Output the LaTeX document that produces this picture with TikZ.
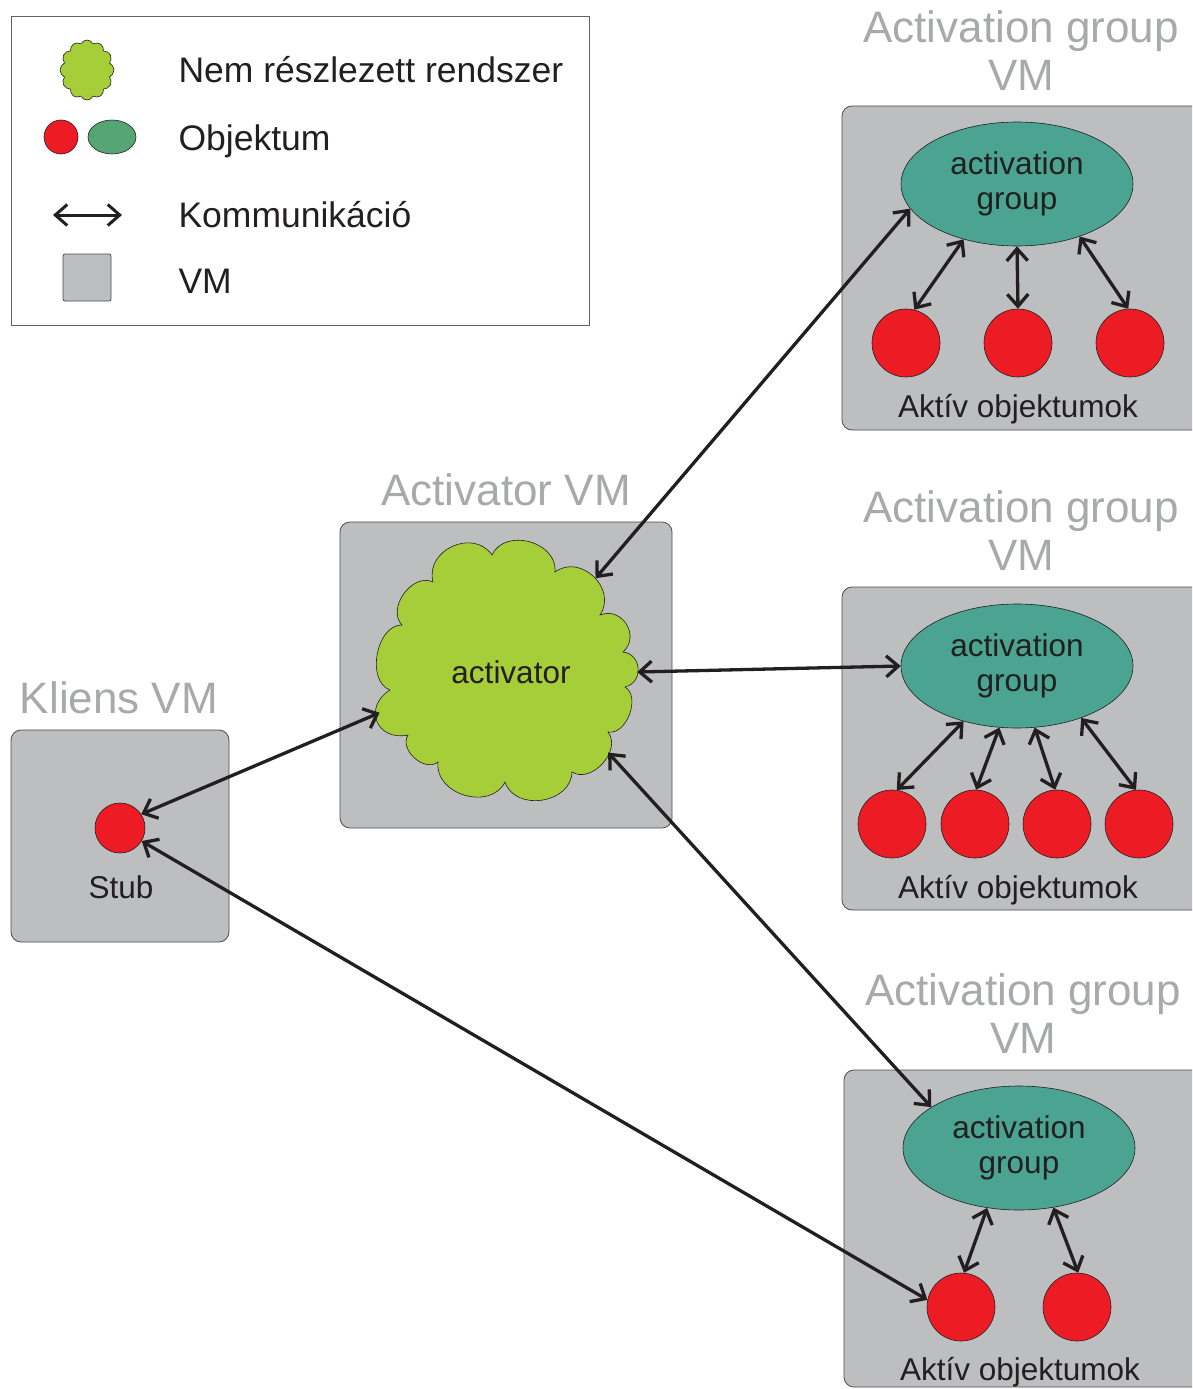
\documentclass[tikz,border=0pt]{standalone}
\usepackage{fontspec}
\setmainfont{Liberation Sans}
\usetikzlibrary{arrows.meta, shapes.geometric, shapes.symbols}
\definecolor{vmgray}{HTML}{BCBEC0}
\definecolor{titlegray}{HTML}{A7A9AC}
\definecolor{cloudgreen}{HTML}{A6CE39}
\definecolor{groupteal}{HTML}{4AA491}
\definecolor{legendgreen}{HTML}{55A473}
\definecolor{objred}{HTML}{ED1C24}
\definecolor{inkdark}{HTML}{231F20}

\begin{document}
\begin{tikzpicture}[x=1pt, y=-1pt,
				vmbox/.style={draw=inkdark!80, fill=vmgray, line width=0.8pt, rounded corners=10pt},
				vmtitle/.style={font=\fontsize{44}{48}\selectfont, text=titlegray, align=center},
				grp/.style={ellipse, draw=inkdark, fill=groupteal, line width=0.6pt, minimum width=232pt, minimum height=124pt, inner sep=0pt, align=center, font=\fontsize{31.5}{35}\selectfont, text=inkdark},
				obj/.style={circle, draw=inkdark, fill=objred, line width=0.6pt, minimum size=68pt, inner sep=0pt},
				blob/.style={draw=inkdark, fill=cloudgreen, line width=0.6pt},
				puffarc/.style={bend left=80, looseness=#1},
				comm/.style={{Straight Barb[length=12pt, width=21pt]}-{Straight Barb[length=12pt, width=21pt]}, line width=3.3pt, draw=inkdark},
				smalltext/.style={font=\fontsize{31.5}{35}\selectfont, text=inkdark, anchor=base},
				legtext/.style={font=\fontsize{35.5}{40}\selectfont, text=inkdark, anchor=base west}
			]
			\useasboundingbox (0,0) rectangle (1192,1389);
			\clip (0,0) rectangle (1192,1389);

			% Legend
			\draw[draw=inkdark!70, line width=0.8pt] (11,16) rectangle (589,325);
			\node[blob, cloud, cloud puffs=12, cloud puff arc=130, cloud ignores aspect, inner sep=0pt, minimum width=54pt, minimum height=60pt] (legcloud) at (87,70) {};
			\node[legtext] (legcloudtxt) at (175,82) {Nem részlezett rendszer};
			\node[circle, draw=inkdark, fill=objred, line width=0.6pt, minimum size=34pt, inner sep=0pt] (legobj) at (61,137) {};
			\node[ellipse, draw=inkdark, fill=legendgreen, line width=0.6pt, minimum width=48pt, minimum height=34pt, inner sep=0pt] (leggrp) at (112,137) {};
			\node[legtext] (legobjtxt) at (175,150) {Objektum};
			\coordinate (legl) at (53,215);
			\coordinate (legr) at (122,215);
			\draw[comm, line width=3pt] (legl) -- (legr);
			\node[legtext] (legcommtxt) at (175,227) {Kommunikáció};
			\draw[vmbox, rounded corners=2pt] (63,254) rectangle (111,301);
			\node[legtext] (legvmtxt) at (175,293) {VM};

			% Kliens VM
			\draw[vmbox] (11,730) rectangle (229,942);
			\node[vmtitle] (klienstitle) at (119,698) {Kliens VM};
			\node[obj, minimum size=50pt] (stub) at (120,828) {};
			\node[smalltext] (stubtxt) at (121,898) {Stub};

			% Activator VM
			\draw[vmbox] (340,522) rectangle (672,828);
			\node[vmtitle] (acttitle) at (506,490) {Activator VM};
			\draw[blob] (492,555) to[puffarc=1.2] (555,572) to[puffarc=1.3] (600,615)
				to[puffarc=1.4] (623,652) to[puffarc=1.4] (625,687) to[puffarc=1.0] (608,732)
				to[puffarc=1.1] (572,772) to[puffarc=1.2] (505,782) to[puffarc=1.2] (438,762)
				to[puffarc=1.1] (408,735) to[puffarc=1.7] (390,690) to[puffarc=1.0] (402,625)
				to[puffarc=1.1] (433,582) to[puffarc=1.3] cycle;
			\node[ellipse, minimum width=264pt, minimum height=257pt, inner sep=0pt, font=\fontsize{31.5}{35}\selectfont, text=inkdark] (act) at (505,672) {\hspace*{12pt}activator};

			% Activation group VM 1
			\draw[vmbox] (842,106) rectangle (1205,430);
			\node[vmtitle] (ag1title) at (1021,51) {Activation group\\VM};
			\node[grp] (ag1) at (1017,184) {activation\\group};
			\node[obj] (ag1o1) at (906,343) {};
			\node[obj] (ag1o2) at (1018,343) {};
			\node[obj] (ag1o3) at (1130,343) {};
			\node[smalltext] (ag1txt) at (1018,417) {Aktív objektumok};

			% Activation group VM 2
			\draw[vmbox] (842,587) rectangle (1205,910);
			\node[vmtitle] (ag2title) at (1021,531) {Activation group\\VM};
			\node[grp] (ag2) at (1017,666) {activation\\group};
			\node[obj] (ag2o1) at (892,824) {};
			\node[obj] (ag2o2) at (975,824) {};
			\node[obj] (ag2o3) at (1057,824) {};
			\node[obj] (ag2o4) at (1139,824) {};
			\node[smalltext] (ag2txt) at (1018,898) {Aktív objektumok};

			% Activation group VM 3
			\draw[vmbox] (844,1070) rectangle (1205,1387);
			\node[vmtitle] (ag3title) at (1023,1014) {Activation group\\VM};
			\node[grp] (ag3) at (1019,1148) {activation\\group};
			\node[obj] (ag3o1) at (961,1307) {};
			\node[obj] (ag3o2) at (1077,1307) {};
			\node[smalltext] (ag3txt) at (1020,1380) {Aktív objektumok};

			% Communication
			\draw[comm] (stub.33) -- (act.198);
			\draw[comm] (stub.-31) -- (ag3o1.168);
			\draw[comm] (act.46) -- (ag1.193);
			\draw[comm] (act.0) -- (ag2.180);
			\draw[comm] (act.-38) -- (ag3.155);

			\draw[comm] (ag1.226) -- (ag1o1.76);
			\draw[comm] (ag1.270) -- (ag1o2.90);
			\draw[comm] (ag1.320) -- (ag1o3.93);

			\draw[comm] (ag2.226) -- (ag2o1.82);
			\draw[comm] (ag2.254) -- (ag2o2.88);
			\draw[comm] (ag2.286) -- (ag2o3.93);
			\draw[comm] (ag2.321) -- (ag2o4.95);

			\draw[comm] (ag3.242) -- (ag3o1.85);
			\draw[comm] (ag3.300) -- (ag3o2.88);
		\end{tikzpicture}
\end{document}
